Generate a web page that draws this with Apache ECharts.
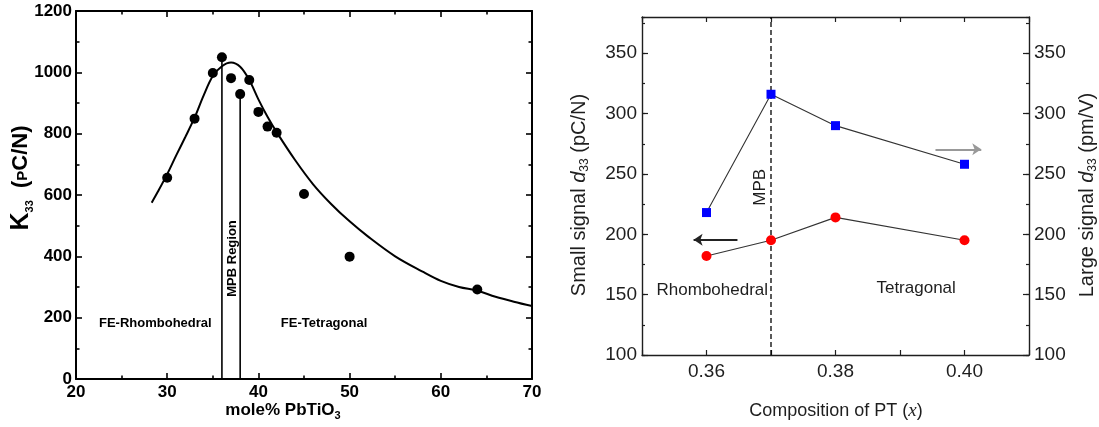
<!DOCTYPE html>
<html><head><meta charset="utf-8">
<script src="https://cdn.jsdelivr.net/npm/echarts/dist/echarts.min.js"></script>
<style>html,body{margin:0;padding:0;background:#fff}#c{width:1099px;height:427px}</style>
</head><body><div id="c"></div>
<script>
// ---- Left panel data (K33 vs mole% PbTiO3) ----
const leftX = [30, 33, 35, 36, 37, 38, 39, 40, 41, 42, 45, 50, 64];
const leftK33 = [656, 849, 998, 1049, 981, 929, 975, 871, 823, 803, 603, 399, 292];
const fitX = [28.3, 29, 30, 31, 32, 33, 34, 35, 36, 37, 38, 39, 40, 41, 42, 44, 46, 48, 50, 52, 55, 58, 60, 62, 64, 66, 68, 70];
const fitK33 = [575, 612, 668, 730, 790, 852, 925, 988, 1020, 1032, 1018, 975, 912, 855, 805, 715, 635, 570, 514, 465, 400, 350, 320, 300, 288, 268, 252, 238];
const mpbBounds = [36, 38];
const leftTicksX = [20, 70, 10];
const leftTicksY = [0, 1200, 200];
const leftNotes = [
  { text: 'FE-Rhombohedral', x: 28.7, y: 180, rot: 0 },
  { text: 'FE-Tetragonal', x: 47.2, y: 180, rot: 0 },
  { text: 'MPB Region', x: 37.1, y: 393, rot: 90 }
];
// ---- Right panel data (d33 vs composition) ----
const ptX = [0.36, 0.37, 0.38, 0.40];
const smallD33 = [182, 195, 214, 195];
const largeD33 = [218, 316, 290, 258];
const rightTicksX = [0.35, 0.41, 0.01];
const rightTicksY = [100, 380, 50];
const mpbX = 0.37;
const rightNotes = [
  { text: 'Rhombohedral', x: 0.3609, y: 153.8, rot: 0 },
  { text: 'Tetragonal', x: 0.3925, y: 155, rot: 0 },
  { text: 'MPB', x: 0.3684, y: 239, rot: 90 }
];
const arrowSmall = [[0.3648, 195.5], [0.3580, 195.5]];
const arrowLarge = [[0.3955, 270.4], [0.4026, 270.4]];

const F = 'Liberation Sans';
const BLK = '#000';
const DK = '#1e1e1e';

function lAxisX(pos, showLabel) {
  return {
    gridIndex: 0, type: 'value', position: pos,
    min: leftTicksX[0], max: leftTicksX[1], interval: leftTicksX[2],
    axisLine: { onZero: false, lineStyle: { color: BLK, width: 2 } },
    axisTick: { inside: true, length: 6, lineStyle: { color: BLK, width: 1.6 } },
    minorTick: { show: true, splitNumber: 2, length: 3.5, lineStyle: { color: BLK, width: 1.6 } },
    splitLine: { show: false },
    axisLabel: { show: showLabel, fontFamily: F, fontSize: 17, fontWeight: 'bold', color: BLK, margin: 5,
      formatter: v => String(v) }
  };
}
function lAxisY(pos, showLabel) {
  return {
    gridIndex: 0, type: 'value', position: pos,
    min: leftTicksY[0], max: leftTicksY[1], interval: leftTicksY[2],
    axisLine: { onZero: false, lineStyle: { color: BLK, width: 2 } },
    axisTick: { inside: true, length: 6, lineStyle: { color: BLK, width: 1.6 } },
    minorTick: { show: true, splitNumber: 2, length: 3.5, lineStyle: { color: BLK, width: 1.6 } },
    splitLine: { show: false },
    axisLabel: { show: showLabel, fontFamily: F, fontSize: 17, fontWeight: 'bold', color: BLK, margin: 4,
      formatter: v => String(v) }
  };
}
function rAxisX(pos, showLabel) {
  return {
    gridIndex: 1, type: 'value', position: pos,
    min: rightTicksX[0], max: rightTicksX[1], interval: rightTicksX[2],
    axisLine: { onZero: false, lineStyle: { color: DK, width: 1.4 } },
    axisTick: { inside: true, length: 5, lineStyle: { color: DK, width: 1.2 } },
    splitLine: { show: false },
    axisLabel: {
      show: showLabel, fontFamily: F, fontSize: 19, color: DK, margin: 7,
      formatter: v => { const k = Math.round(v * 100); return (k % 2 === 0 && k >= 36 && k <= 40) ? v.toFixed(2) : ''; }
    }
  };
}
function rAxisY(pos, showLabel) {
  return {
    gridIndex: 1, type: 'value', position: pos,
    min: rightTicksY[0], max: rightTicksY[1], interval: rightTicksY[2],
    axisLine: { onZero: false, lineStyle: { color: DK, width: 1.4 } },
    axisTick: { inside: true, length: 6, lineStyle: { color: DK, width: 1.2 } },
    splitLine: { show: false },
    axisLabel: { show: showLabel, showMaxLabel: false, fontFamily: F, fontSize: 19, color: DK, margin: 5 }
  };
}
function rAxisYMinor(pos) {
  return {
    gridIndex: 1, type: 'value', position: pos,
    min: rightTicksY[0], max: rightTicksY[1], interval: rightTicksY[2] / 2,
    axisLine: { show: false, onZero: false },
    axisTick: { inside: true, length: 3, lineStyle: { color: DK, width: 1.2 } },
    splitLine: { show: false },
    axisLabel: { show: false }
  };
}
function noteSeries(notes, xi, yi, style) {
  return {
    type: 'scatter', xAxisIndex: xi, yAxisIndex: yi, silent: true,
    symbolSize: 1, itemStyle: { color: 'rgba(0,0,0,0)', opacity: 1 },
    data: notes.map(n => ({ value: [n.x, n.y], name: n.text,
      label: { show: true, position: 'inside', rotate: n.rot, formatter: '{b}', textBorderWidth: 0, ...style } }))
  };
}

const option = {
  animation: false,
  backgroundColor: '#fff',
  grid: [
    { left: 76, top: 11, width: 456, height: 368 },
    { left: 642, top: 17, width: 387, height: 338 }
  ],
  xAxis: [lAxisX('bottom', true), lAxisX('top', false), rAxisX('bottom', true), rAxisX('top', false)],
  yAxis: [lAxisY('left', true), lAxisY('right', false), rAxisY('left', true), rAxisY('right', true), rAxisYMinor('left'), rAxisYMinor('right')],
  graphic: [
    { type: 'text', x: 21, y: 178, rotation: Math.PI / 2, style: {
      text: '{k|K}{s|33}{n|  (}{p|P}{n|C/N)}', align: 'center', verticalAlign: 'middle',
      rich: {
        k: { fontFamily: F, fontSize: 25, fontWeight: 'bold', fill: BLK, lineHeight: 28, verticalAlign: 'middle' },
        s: { fontFamily: F, fontSize: 11, fontWeight: 'bold', fill: BLK, lineHeight: 12, verticalAlign: 'bottom' },
        n: { fontFamily: F, fontSize: 22, fontWeight: 'bold', fill: BLK, lineHeight: 28, verticalAlign: 'middle' },
        p: { fontFamily: F, fontSize: 15, fontWeight: 'bold', fill: BLK, lineHeight: 20, verticalAlign: 'middle', padding: [3, 0, 0, 0] }
      } } },
    { type: 'text', x: 283, y: 410, style: {
      text: '{n|mole% PbTiO}{s|3}', align: 'center', verticalAlign: 'middle',
      rich: {
        n: { fontFamily: F, fontSize: 17, fontWeight: 'bold', fill: BLK, lineHeight: 22, verticalAlign: 'middle' },
        s: { fontFamily: F, fontSize: 11, fontWeight: 'bold', fill: BLK, lineHeight: 12, verticalAlign: 'bottom' }
      } } },
    { type: 'text', x: 579, y: 195, rotation: Math.PI / 2, style: {
      text: '{n|Small signal }{i|d}{s|33}{n| (pC/N)}', align: 'center', verticalAlign: 'middle',
      rich: {
        n: { fontFamily: F, fontSize: 20, fill: DK, lineHeight: 24, verticalAlign: 'middle' },
        i: { fontFamily: F, fontSize: 20, fontStyle: 'italic', fill: DK, lineHeight: 24, verticalAlign: 'middle' },
        s: { fontFamily: F, fontSize: 12, fill: DK, lineHeight: 12, verticalAlign: 'bottom' }
      } } },
    { type: 'text', x: 1087, y: 195, rotation: Math.PI / 2, style: {
      text: '{n|Large signal }{i|d}{s|33}{n| (pm/V)}', align: 'center', verticalAlign: 'middle',
      rich: {
        n: { fontFamily: F, fontSize: 20, fill: DK, lineHeight: 24, verticalAlign: 'middle' },
        i: { fontFamily: F, fontSize: 20, fontStyle: 'italic', fill: DK, lineHeight: 24, verticalAlign: 'middle' },
        s: { fontFamily: F, fontSize: 12, fill: DK, lineHeight: 12, verticalAlign: 'bottom' }
      } } },
    { type: 'text', x: 836, y: 411, style: {
      text: '{n|Composition of PT (}{x|x}{n|)}', align: 'center', verticalAlign: 'middle',
      rich: {
        n: { fontFamily: F, fontSize: 18, fill: DK, lineHeight: 22 },
        x: { fontFamily: 'Liberation Serif', fontSize: 19, fontStyle: 'italic', fill: DK, lineHeight: 22 }
      } } }
  ],
  series: [
    { type: 'line', xAxisIndex: 0, yAxisIndex: 0, silent: true, smooth: 0.35, showSymbol: false,
      lineStyle: { color: BLK, width: 2 }, data: fitX.map((x, i) => [x, fitK33[i]]) },
    ...mpbBounds.map(b => ({ type: 'line', xAxisIndex: 0, yAxisIndex: 0, silent: true, showSymbol: false,
      lineStyle: { color: BLK, width: 1.6 }, data: [[b, leftTicksY[0]], [b, leftK33[leftX.indexOf(b)]]] })),
    { type: 'scatter', xAxisIndex: 0, yAxisIndex: 0, silent: true, symbol: 'circle', symbolSize: 10,
      itemStyle: { color: BLK, opacity: 1 }, data: leftX.map((x, i) => [x, leftK33[i]]) },
    noteSeries(leftNotes, 0, 0, { fontFamily: F, fontSize: 13, fontWeight: 'bold', color: BLK }),

    { type: 'line', xAxisIndex: 2, yAxisIndex: 2, silent: true, showSymbol: false,
      lineStyle: { color: BLK, width: 1.3, type: [5, 3] }, data: [[mpbX, rightTicksY[0]], [mpbX, rightTicksY[1]]] },
    { type: 'line', xAxisIndex: 2, yAxisIndex: 2, silent: true, symbol: 'circle', symbolSize: 10,
      itemStyle: { color: '#ff0000', opacity: 1 }, lineStyle: { color: '#333', width: 1.1 },
      data: ptX.map((x, i) => [x, smallD33[i]]) },
    { type: 'line', xAxisIndex: 2, yAxisIndex: 3, silent: true, symbol: 'rect', symbolSize: 9,
      itemStyle: { color: '#0000ff', opacity: 1 }, lineStyle: { color: '#333', width: 1.1 },
      data: ptX.map((x, i) => [x, largeD33[i]]) },
    { type: 'lines', coordinateSystem: 'cartesian2d', xAxisIndex: 2, yAxisIndex: 2, silent: true,
      symbol: ['none', 'arrow'], symbolSize: 9, lineStyle: { color: '#222', width: 1.8, opacity: 1 },
      data: [{ coords: arrowSmall }] },
    { type: 'lines', coordinateSystem: 'cartesian2d', xAxisIndex: 2, yAxisIndex: 3, silent: true,
      symbol: ['none', 'arrow'], symbolSize: 9, lineStyle: { color: '#999', width: 2.2, opacity: 1 },
      data: [{ coords: arrowLarge }] },
    noteSeries(rightNotes, 2, 2, { fontFamily: F, fontSize: 17, color: DK })
  ]
};
const chart = echarts.init(document.getElementById('c'), null, { renderer: 'canvas' });
chart.setOption(option);
</script></body></html>
